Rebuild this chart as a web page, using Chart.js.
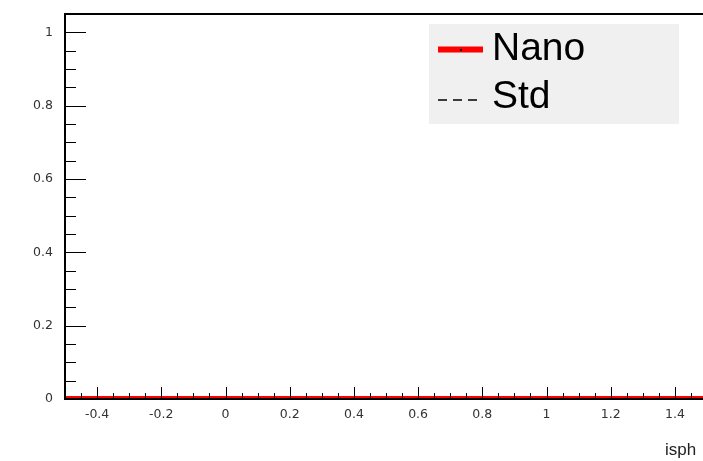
<!DOCTYPE html>
<html>
<head>
<meta charset="utf-8">
<script src="https://cdn.jsdelivr.net/npm/chart.js@4/dist/chart.umd.min.js"></script>
<style>
  html, body { margin: 0; padding: 0; background: #fff; overflow: hidden; width: 703px; height: 461px; }
  #wrap { width: 740px; height: 461px; }
</style>
</head>
<body>
<div id="wrap"><canvas id="c" width="740" height="461"></canvas></div>
<script>
/* ROOT-style empty efficiency plot: both curves sit on zero. Frame runs
   past the right edge of the window, as in the original crop. */

const binEdges   = [-0.5, 0, 0.5, 1.0, 1.5];
const nanoValues = [0, 0, 0, 0, 0];
const stdValues  = [0, 0, 0, 0, 0];
const xTicks = [-0.4, -0.2, 0, 0.2, 0.4, 0.6, 0.8, 1, 1.2, 1.4];
const yTicks = [0, 0.2, 0.4, 0.6, 0.8, 1];
const xTitle = 'isph';

const pts = vals => binEdges.map((x, i) => ({ x, y: vals[i] }));
const tickFont = { family: '"DejaVu Sans", sans-serif', size: 12.5 };

// frame, inward ticks, legend box and axis title — ROOT look
const rootFrame = {
  id: 'rootFrame',
  afterDraw(chart) {
    const { ctx, chartArea: ca, scales: { x, y } } = chart;
    ctx.save();
    ctx.strokeStyle = '#000';
    ctx.lineWidth = 1;
    ctx.beginPath();
    // x ticks every 0.05, major every 0.2
    for (let i = -10; i <= 30; i++) {
      const v = i * 0.05, px = Math.round(x.getPixelForValue(v)) + 0.5;
      const len = i % 4 === 0 ? 12 : 6;
      ctx.moveTo(px, ca.bottom); ctx.lineTo(px, ca.bottom - len);
    }
    for (let i = 0; i <= 20; i++) {
      const v = i * 0.05, py = Math.round(y.getPixelForValue(v)) + 0.5;
      const len = i % 4 === 0 ? 21 : 11;
      ctx.moveTo(ca.left, py); ctx.lineTo(ca.left + len, py);
    }
    ctx.stroke();

    ctx.lineWidth = 2;
    ctx.strokeRect(ca.left, ca.top, ca.right - ca.left, ca.bottom - ca.top);

    // legend
    const lx = ca.left + 364, ly = ca.top + 10;
    ctx.fillStyle = '#f0f0f0';
    ctx.fillRect(lx, ly, 250, 100);
    const ds = chart.data.datasets;
    ctx.lineWidth = ds[0].borderWidth;
    ctx.strokeStyle = ds[0].borderColor;
    ctx.beginPath(); ctx.moveTo(lx + 9, ly + 25.5); ctx.lineTo(lx + 54, ly + 25.5); ctx.stroke();
    ctx.fillStyle = '#000';
    ctx.fillRect(lx + 31, ly + 25, 2, 2);
    ctx.lineWidth = 1.3;
    ctx.strokeStyle = ds[1].borderColor;
    ctx.setLineDash([9, 6]);
    ctx.beginPath(); ctx.moveTo(lx + 9, ly + 76); ctx.lineTo(lx + 48, ly + 76); ctx.stroke();
    ctx.setLineDash([]);
    ctx.font = '39px "Liberation Sans", Arial, sans-serif';
    ctx.textBaseline = 'alphabetic';
    ctx.textAlign = 'left';
    ctx.fillText(ds[0].label, lx + 63, ly + 36);
    ctx.fillText(ds[1].label, lx + 63, ly + 84);

    // axis title, cut by window edge
    ctx.font = '17px "Liberation Sans", Arial, sans-serif';
    ctx.fillStyle = '#222';
    ctx.fillText(xTitle, ca.right - 42, 455);
    ctx.restore();
  }
};

new Chart(document.getElementById('c'), {
  type: 'line',
  data: {
    datasets: [
      { label: 'Nano', data: pts(nanoValues), borderColor: '#ff0000', borderWidth: 6,
        pointRadius: 0, tension: 0 },
      { label: 'Std', data: pts(stdValues), borderColor: '#000000', borderWidth: 1,
        borderDash: [9, 6], pointRadius: 0, tension: 0 }
    ]
  },
  options: {
    responsive: false,
    animation: false,
    devicePixelRatio: 1,
    layout: { padding: { top: 14, right: 33, left: 0, bottom: 0 } },
    plugins: { legend: { display: false }, tooltip: { enabled: false } },
    scales: {
      x: {
        type: 'linear', min: -0.5, max: 1.5,
        grid: { display: false, drawTicks: false },
        border: { display: false },
        afterBuildTicks: s => { s.ticks = xTicks.map(value => ({ value })); },
        afterFit: s => { s.height = 62; s.paddingLeft = 0; s.paddingRight = 0; },
        ticks: { padding: 8, color: '#333', maxRotation: 0, autoSkip: false,
                 font: tickFont, callback: v => String(v) }
      },
      y: {
        min: 0, max: 1.05,
        grid: { display: false, drawTicks: false },
        border: { display: false },
        afterBuildTicks: s => { s.ticks = yTicks.map(value => ({ value })); },
        afterFit: s => { s.width = 65; s.paddingTop = 0; s.paddingBottom = 0; },
        ticks: { padding: 12, color: '#333',
                 font: tickFont, callback: v => String(v) }
      }
    }
  },
  plugins: [rootFrame]
});
</script>
</body>
</html>
